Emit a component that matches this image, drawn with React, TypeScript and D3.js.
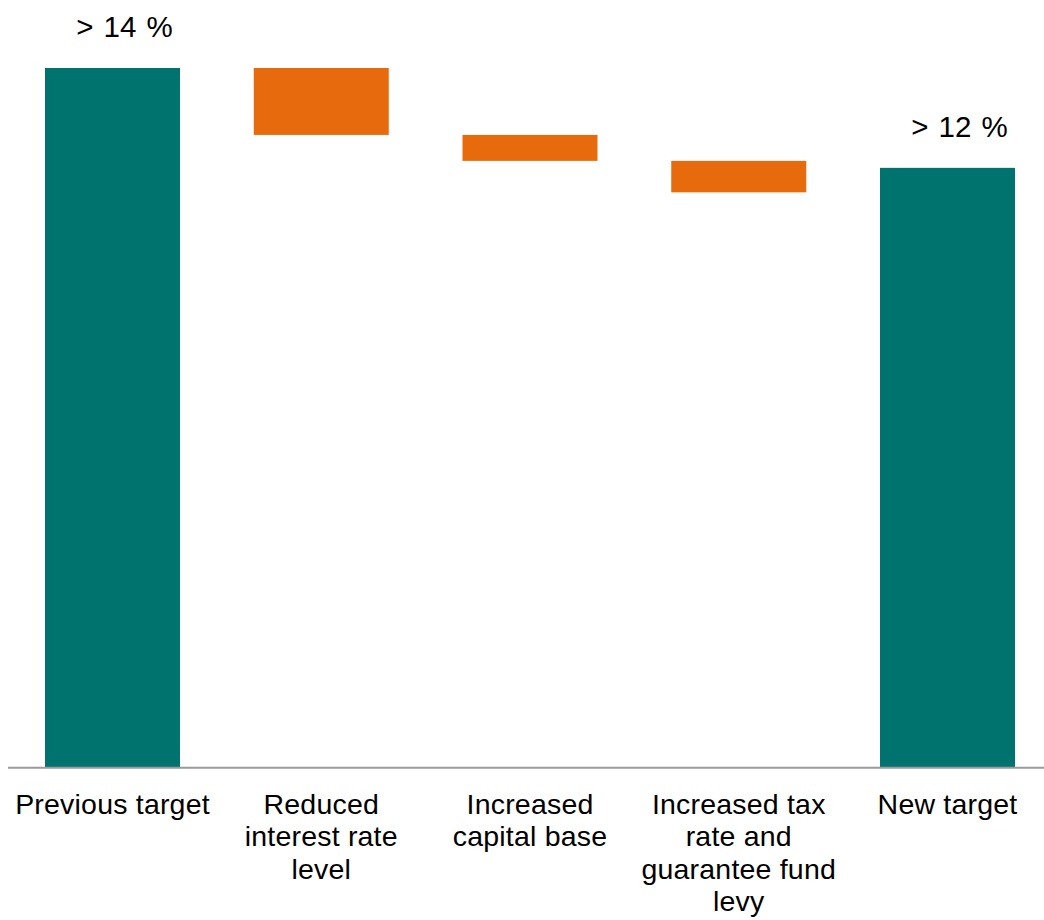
import React from "react";
import * as d3 from "d3";

const categories: string[][] = [
  ["Previous target"],
  ["Reduced", "interest rate", "level"],
  ["Increased", "capital base"],
  ["Increased tax", "rate and", "guarantee fund", "levy"],
  ["New target"],
];
const kinds: string[] = ["total", "delta", "delta", "delta", "total"];
const values: number[] = [14, -1.34, -0.52, -0.63, 12];
const totalLabels: string[] = ["> 14 %", "", "", "", "> 12 %"];

const W = 1044;
const H = 920;
const TEAL = "#00736F";
const ORANGE = "#E76B0D";
const FONT = "'Liberation Sans', Arial, sans-serif";

export default function App() {
  const idx = categories.map((_, i) => i);
  const x = d3
    .scaleBand<number>()
    .domain(idx)
    .range([8.125, 1051.875])
    .paddingInner(0.3533)
    .paddingOuter(0.3533 / 2);
  const y = d3.scaleLinear().domain([0, 14]).range([767, 68]);

  let running = 0;
  const bars = values.map((v, i) => {
    if (kinds[i] === "total") {
      running = v;
      return { i, y0: 0, y1: v, kind: "total" };
    }
    const start = running;
    running = running + v;
    return { i, y0: running, y1: start, kind: "delta" };
  });

  return (
    <svg
      width={W}
      height={H}
      style={{ position: "absolute", left: 0, top: 0, background: "#fff" }}
      fontFamily={FONT}
    >
      {bars.map((b) => (
        <rect
          key={b.i}
          x={x(b.i)}
          width={x.bandwidth()}
          y={y(b.y1)}
          height={y(b.y0) - y(b.y1)}
          fill={b.kind === "total" ? TEAL : ORANGE}
        />
      ))}
      <line x1={8} x2={W} y1={767.7} y2={767.7} stroke="#9a9a9a" strokeWidth={2} />
      {bars.map((b) =>
        totalLabels[b.i] ? (
          <text
            key={"l" + b.i}
            x={(x(b.i) as number) + x.bandwidth() / 2 + 12}
            y={y(b.y1) - 31}
            textAnchor="middle"
            fontSize={29.5}
            wordSpacing={2}
            fill="#000"
          >
            {totalLabels[b.i]}
          </text>
        ) : null
      )}
      {categories.map((lines, i) => (
        <text
          key={"c" + i}
          x={(x(i) as number) + x.bandwidth() / 2}
          y={814}
          textAnchor="middle"
          fontSize={28.5}
          letterSpacing={0.2}
          fill="#000"
        >
          {lines.map((ln, j) => (
            <tspan key={j} x={(x(i) as number) + x.bandwidth() / 2} dy={j === 0 ? 0 : 32.3}>
              {ln}
            </tspan>
          ))}
        </text>
      ))}
    </svg>
  );
}
